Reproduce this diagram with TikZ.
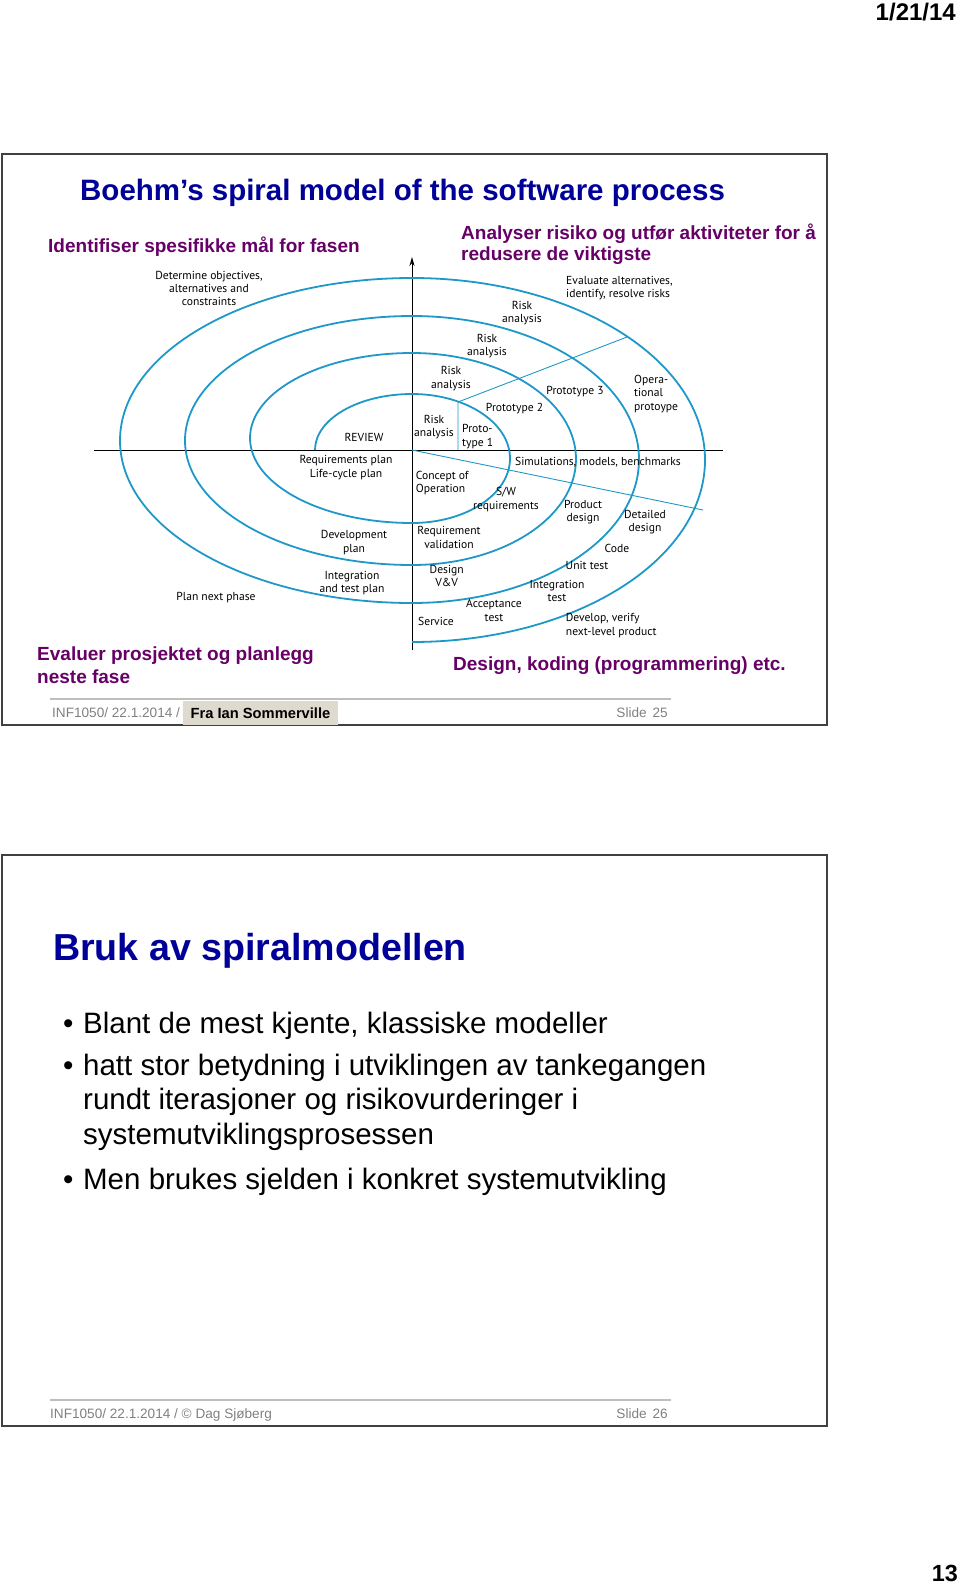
\documentclass[tikz,border=0pt]{standalone}
\usepackage{fontspec}
\setmainfont{Liberation Sans}
\newfontfamily\figfont{PT Sans}
\usetikzlibrary{arrows.meta,positioning}
\definecolor{ttlblue}{RGB}{0,0,153}
\definecolor{headpurple}{RGB}{102,0,102}
\definecolor{spiralblue}{RGB}{30,152,200}
\definecolor{footgray}{RGB}{128,128,128}
\definecolor{rulegray}{RGB}{190,190,190}
\definecolor{tagbg}{RGB}{222,218,206}
\definecolor{framegray}{RGB}{64,64,64}

\begin{document}
\begin{tikzpicture}
	[x=1pt,y=-1pt,
	slide/.style={draw=framegray,line width=1.6pt},
	ttl/.style={anchor=base west,inner sep=0pt,text=ttlblue,font=\bfseries\fontsize{29.5}{34}\selectfont},
	head/.style={anchor=base west,inner sep=0pt,align=left,text=headpurple,font=\bfseries\fontsize{19}{21.7}\selectfont},
	lbl/.style={anchor=base,inner sep=0pt,align=center,font=\figfont\fontsize{11.6}{13.4}\selectfont},
	lbll/.style={lbl,anchor=base west,align=left},
	spiral/.style={draw=spiralblue,line width=1.8pt},
	guide/.style={draw=spiralblue,line width=0.9pt},
	axis/.style={draw=black,line width=1pt},
	foot/.style={anchor=base west,inner sep=0pt,text=footgray,font=\fontsize{13.6}{16}\selectfont},
	rule/.style={draw=rulegray,line width=1.2pt},
	bullet/.style={anchor=base west,inner sep=0pt,align=left,font=\fontsize{29.5}{34.5}\selectfont}]
	\useasboundingbox (0,0) rectangle (960,1582);
	\node[anchor=base east,inner sep=0pt,font=\bfseries\fontsize{24}{28}\selectfont] (date) at (956,20) {1/21/14};
	\node[anchor=base east,inner sep=0pt,font=\bfseries\fontsize{23.4}{28}\selectfont] (page) at (958,1581) {13};
	% slide 25 (multi-line nodes sit on their last baseline)
	\draw[slide] (2,154) rectangle (827,725);
	\node[ttl] (title1) at (80,200) {Boehm’s spiral model of the software process};
	\node[head] (goal) at (48,252.7) {Identifiser spesifikke mål for fasen};
	\node[head] (risk) at (461,260.7) {Analyser risiko og utfør aktiviteter for å\\redusere de viktigste};
	\node[head,font=\bfseries\fontsize{19}{22.6}\selectfont] (eval) at (37,683.3) {Evaluer prosjektet og planlegg\\neste fase};
	\node[head] (dev) at (453,670.7) {Design, koding (programmering) etc.};
	\coordinate (o) at (412,450);
	\coordinate (axtop) at (412,257);
	\coordinate (axbot) at (412,650);
	\coordinate (axleft) at (94,450);
	\coordinate (axright) at (723,450);
	\coordinate (p1top) at (458,402);
	\coordinate (p1bot) at (458,450);
	\coordinate (evalend) at (627,337);
	\coordinate (simend) at (703,510);
	\draw[axis] (axleft) -- (axright);
	\draw[axis,-{Stealth[length=9pt,width=5pt]}] (axbot) -- (axtop);
	\draw[spiral] (315,450) arc[start angle=180,end angle=270,x radius=97,y radius=56]
		arc[start angle=-90,end angle=90,x radius=98,y radius=64.5]
		arc[start angle=90,end angle=270,x radius=162,y radius=85]
		arc[start angle=-90,end angle=90,x radius=164,y radius=106]
		arc[start angle=90,end angle=270,x radius=227,y radius=124.5]
		arc[start angle=-90,end angle=90,x radius=227,y radius=143.5]
		arc[start angle=90,end angle=270,x radius=292,y radius=162.5]
		arc[start angle=-90,end angle=90,x radius=293,y radius=182];
	\draw[guide] (p1bot) -- (p1top) -- (evalend);
	\draw[guide] (o) -- (simend);
	\node[lbl]  (det)       at (209,305.8)   {Determine objectives,\\alternatives and\\constraints};
	\node[lbl]  (ra1)       at (434,436.7)   {Risk\\analysis};
	\node[lbl]  (ra2)       at (451,388)     {Risk\\analysis};
	\node[lbl]  (ra3)       at (487,355.7)   {Risk\\analysis};
	\node[lbl]  (ra4)       at (522,322.7)   {Risk\\analysis};
	\node[lbll] (evalalt)   at (566,297.7)   {Evaluate alternatives,\\identify, resolve risks};
	\node[lbl]  (proto3)    at (575,394)     {Prototype 3};
	\node[lbl]  (proto2)    at (514.5,411.7) {Prototype 2};
	\node[lbll] (proto1)    at (462,446)     {Proto-\\type 1};
	\node[lbll] (opproto)   at (634,410)     {Opera-\\tional\\protoype};
	\node[lbl]  (review)    at (364,441.7)   {REVIEW};
	\node[lbl]  (reqplan)   at (346,477.3)   {Requirements plan\\Life-cycle plan};
	\node[lbl]  (devplan)   at (354,552)     {Development\\plan};
	\node[lbl]  (intplan)   at (352,592.7)   {Integration\\and test plan};
	\node[lbl]  (nextphase) at (216,600)     {Plan next phase};
	\node[lbll] (concept)   at (415.7,492.7) {Concept of\\Operation};
	\node[lbl]  (reqval)    at (449,548)     {Requirement\\validation};
	\node[lbl]  (designvv)  at (446.7,586.7) {Design\\V\&V};
	\node[lbl]  (service)   at (436,625)     {Service};
	\node[lbl]  (sim)       at (598,465)     {Simulations, models, benchmarks};
	\node[lbl]  (swreq)     at (506,509.3)   {S/W\\requirements};
	\node[lbl]  (proddes)   at (583,521.7)   {Product\\design};
	\node[lbl]  (detdes)    at (645,531.7)   {Detailed\\design};
	\node[lbl]  (code)      at (617,552.7)   {Code};
	\node[lbl]  (unittest)  at (587,569)     {Unit test};
	\node[lbl]  (inttest)   at (557,601.7)   {Integration\\test};
	\node[lbl]  (acctest)   at (494,621)     {Acceptance\\test};
	\node[lbll] (develop)   at (565.7,635)   {Develop, verify\\next-level product};
	\coordinate (rule1l) at (50,699);
	\coordinate (rule1r) at (671,699);
	\draw[rule] (rule1l) -- (rule1r);
	\node[foot] (date1) at (52,717) {INF1050/ 22.1.2014 /};
	\node[fill=tagbg,inner sep=0pt,minimum width=155pt,minimum height=24pt,font=\bfseries\fontsize{14.7}{17}\selectfont] (src) at (260.5,713) {Fra Ian Sommerville};
	\node[foot,anchor=base east] (slide25) at (668,717) {Slide\hspace{6pt}25};
	% slide 26
	\draw[slide] (2,855) rectangle (827,1426);
	\node[ttl,font=\bfseries\fontsize{37.6}{42}\selectfont] (title2) at (53,960) {Bruk av spiralmodellen};
	\node[bullet] (b1) at (63,1033) {\makebox[20pt][l]{•}Blant de mest kjente, klassiske modeller};
	\node[bullet] (b2) at (63,1144) {\makebox[20pt][l]{•}hatt stor betydning i utviklingen av tankegangen\\\hspace*{20pt}rundt iterasjoner og risikovurderinger i\\\hspace*{20pt}systemutviklingsprosessen};
	\node[bullet] (b3) at (63,1189.5) {\makebox[20pt][l]{•}Men brukes sjelden i konkret systemutvikling};
	\coordinate (rule2l) at (50,1400);
	\coordinate (rule2r) at (671,1400);
	\draw[rule] (rule2l) -- (rule2r);
	\node[foot] (date2) at (50,1418) {INF1050/ 22.1.2014 / © Dag Sjøberg};
	\node[foot,anchor=base east] (slide26) at (668,1418) {Slide\hspace{6pt}26};
\end{tikzpicture}
\end{document}
